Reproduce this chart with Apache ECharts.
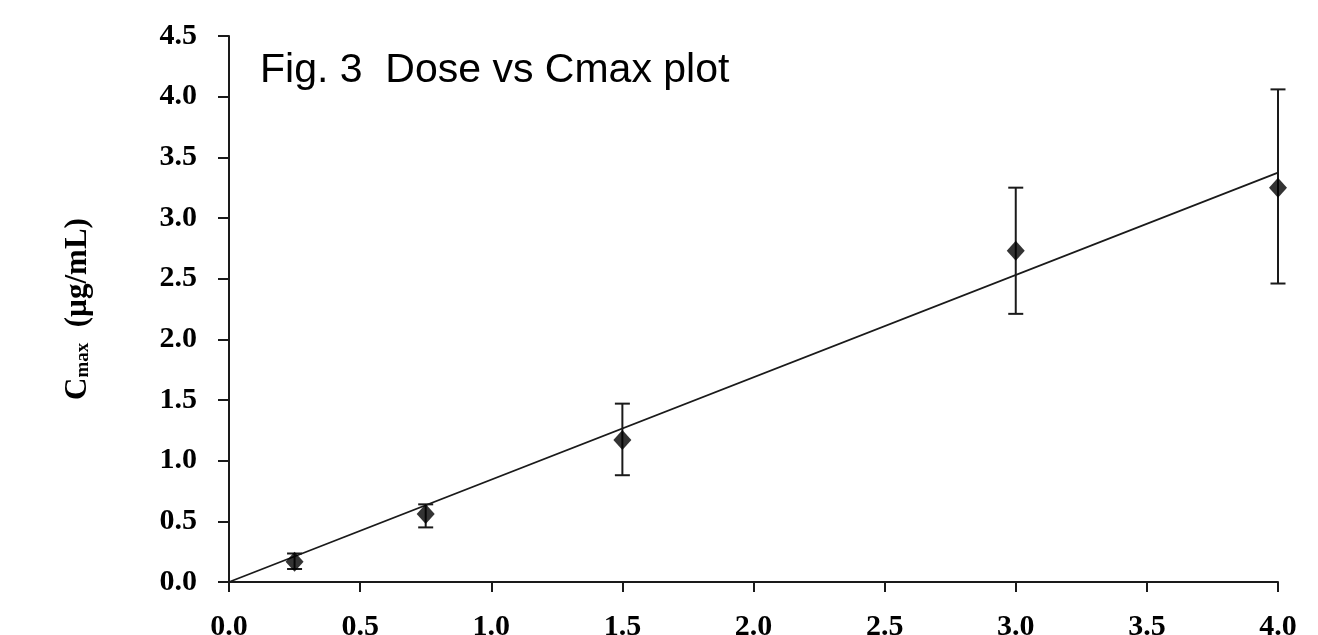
<!DOCTYPE html>
<html>
<head>
<meta charset="utf-8">
<script src="https://cdn.jsdelivr.net/npm/echarts@6/dist/echarts.min.js"></script>
<style>
  html, body { margin: 0; padding: 0; background: #fff; }
  #chart { width: 1318px; height: 635px; }
</style>
</head>
<body>
<div id="chart"></div>
<script>
// dose (x) and Cmax mean with error bar ends
var doses = [0.25, 0.75, 1.5, 3.0, 4.0];
var cmax = [0.167, 0.56, 1.17, 2.73, 3.25];
var errLow = [0.107, 0.45, 0.88, 2.21, 2.46];
var errHigh = [0.235, 0.64, 1.47, 3.25, 4.06];
// regression line ends
var fitX = [0, 4.0];
var fitY = [0, 3.374];
var xTicks = [0, 0.5, 1, 1.5, 2, 2.5, 3, 3.5, 4];
var yTicks = [0, 0.5, 1, 1.5, 2, 2.5, 3, 3.5, 4, 4.5];

var ink = '#1a1a1a';
var serif = '"Liberation Serif", "Times New Roman", serif';

var chart = echarts.init(document.getElementById('chart'));

var pts = doses.map(function (d, i) { return [d, cmax[i]]; });
var bars = doses.map(function (d, i) { return [d, errLow[i], errHigh[i]]; });
var fit = fitX.map(function (x, i) { return [x, fitY[i]]; });

var option = {
    backgroundColor: '#fff',
    animation: false,
    title: {
        text: 'Fig. 3  Dose vs Cmax plot',
        left: 255,
        top: 45,
        textStyle: {
            fontFamily: '"Liberation Sans", Arial, sans-serif',
            fontWeight: 'normal',
            fontSize: 41,
            color: '#000'
        }
    },
    grid: { left: 229, right: 40, top: 36, bottom: 53, containLabel: false, outerBoundsMode: 'none' },
    xAxis: {
        type: 'value',
        min: xTicks[0],
        max: xTicks[xTicks.length - 1],
        interval: 0.5,
        splitLine: { show: false },
        axisLine: { lineStyle: { color: ink, width: 2 } },
        axisTick: { inside: false, length: 10, lineStyle: { color: ink, width: 2 } },
        axisLabel: {
            margin: 30,
            color: '#000',
            fontFamily: serif,
            fontWeight: 'bold',
            fontSize: 30,
            formatter: function (v) { return v.toFixed(1); }
        }
    },
    yAxis: {
        type: 'value',
        min: yTicks[0],
        max: yTicks[yTicks.length - 1],
        interval: 0.5,
        splitLine: { show: false },
        axisLine: { lineStyle: { color: ink, width: 2 } },
        axisTick: { inside: false, length: 11, lineStyle: { color: ink, width: 2 } },
        axisLabel: {
            margin: 32,
            color: '#000',
            fontFamily: serif,
            fontWeight: 'bold',
            fontSize: 30,
            formatter: function (v) { return v.toFixed(1); }
        },
        name: '{c|C}{s|max}{c|  (µg/mL)}',
        nameLocation: 'middle',
        nameRotate: 90,
        nameGap: 136,
        nameTextStyle: {
            rich: {
                c: { fontFamily: serif, fontWeight: 'bold', fontSize: 31, color: '#000' },
                s: { fontFamily: serif, fontWeight: 'bold', fontSize: 19, color: '#000',
                     verticalAlign: 'bottom', padding: [12, 0, 0, 0] }
            }
        }
    },
    series: [
        {
            type: 'line',
            data: fit,
            symbol: 'none',
            lineStyle: { color: ink, width: 1.8 },
            z: 2
        },
        {
            type: 'custom',
            data: bars,
            z: 3,
            renderItem: function (params, api) {
                var x = api.value(0);
                var lo = api.coord([x, api.value(1)]);
                var hi = api.coord([x, api.value(2)]);
                var hw = 7.5;
                var st = { stroke: ink, lineWidth: 2 };
                return {
                    type: 'group',
                    children: [
                        { type: 'line', shape: { x1: lo[0], y1: lo[1], x2: hi[0], y2: hi[1] }, style: st },
                        { type: 'line', shape: { x1: lo[0] - hw, y1: lo[1], x2: lo[0] + hw, y2: lo[1] }, style: st },
                        { type: 'line', shape: { x1: hi[0] - hw, y1: hi[1], x2: hi[0] + hw, y2: hi[1] }, style: st }
                    ]
                };
            }
        },
        {
            type: 'scatter',
            data: pts,
            symbol: 'diamond',
            symbolSize: [18, 20],
            itemStyle: { color: '#000' },
            z: 4
        }
    ]
};

chart.setOption(option);
</script>
</body>
</html>
